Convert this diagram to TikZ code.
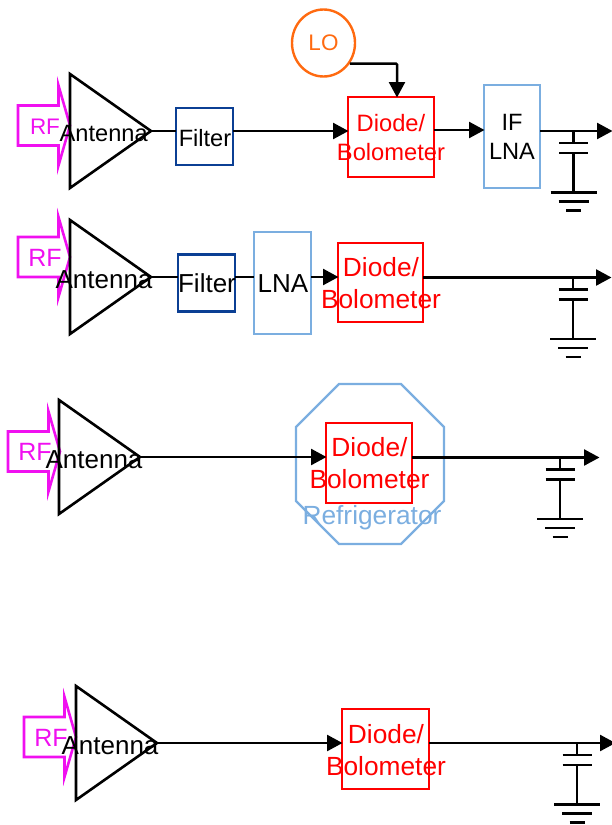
\documentclass[tikz,border=0pt]{standalone}
\usepackage{fontspec}
\setmainfont{Liberation Sans}
\usetikzlibrary{arrows.meta,shapes.geometric}
\definecolor{fblue}{HTML}{0B3F94}
\definecolor{lblue}{HTML}{7BAEE0}
\definecolor{rfmag}{HTML}{F010F0}
\definecolor{loor}{HTML}{FF6A10}
\tikzset{
  wire/.style={line width=2.5pt,black},
  arrowwire/.style={wire,-{Triangle[length=15.5pt,width=16pt]},shorten >=-0.5pt},
  thinwire/.style={line width=2.3pt,black},
  boxbase/.style={draw,fill=white,line width=2.4pt,inner sep=0pt,outer sep=0pt},
  filterbox/.style={boxbase,draw=fblue},
  lnabox/.style={boxbase,draw=lblue},
  diodebox/.style={draw=red,line width=2.4pt,inner sep=0pt,outer sep=0pt},
  antshape/.style={line width=2.6pt,black,line join=miter},
  rfshape/.style={draw=rfmag,line width=2.6pt,line join=miter},
  lbl/.style={inner sep=0pt,align=center},
}
% RF arrow: #1 name, #2 left x, #3 centre y, #4 font size, #5 text x, #6 text y
\newcommand{\rfarrow}[6]{%
  \draw[rfshape] (#2,#3-20) -- (#2+40.5,#3-20) -- (#2+40.5,#3-40) -- (#2+52,#3) -- (#2+40.5,#3+40) -- (#2+40.5,#3+20) -- (#2,#3+20) -- cycle;
  \node[lbl,text=rfmag,font=\fontsize{#4}{#4}\selectfont] (#1rf) at (#5,#6) {RF};
}
% antenna: #1 name, #2 x of left side, #3 y of tip, #4 font size of label, #5 label centre x
\newcommand{\antennashape}[5]{%
  \coordinate (#1tip) at (#2+81,#3);
  \draw[antshape] (#2,#3-57) -- (#2,#3+57) -- (#1tip) -- cycle;
  \node[lbl,font=\fontsize{#4}{#4}\selectfont] (#1ant) at (#5,#3+2.8) {Antenna};
}
% capacitor to ground: #1 name, #2 x, #3 y of line
\newcommand{\capgnd}[3]{%
  \coordinate (#1top) at (#2,#3);
  \coordinate (#1pa) at (#2,#3+12);
  \coordinate (#1pb) at (#2,#3+22);
  \coordinate (#1g) at (#2,#3+61.5);
  \draw[thinwire] (#1top) -- (#1pa);
  \draw[thinwire] (#1pb) -- (#1g);
  \draw[thinwire] ([xshift=-14.5pt]#1pa) -- ([xshift=14.5pt]#1pa);
  \draw[thinwire] ([xshift=-14.5pt]#1pb) -- ([xshift=14.5pt]#1pb);
  \draw[thinwire] ([xshift=-23pt]#1g) -- ([xshift=23pt]#1g);
  \draw[thinwire] ([xshift=-15pt,yshift=-9pt]#1g) -- ([xshift=15pt,yshift=-9pt]#1g);
  \draw[thinwire] ([xshift=-7.5pt,yshift=-18pt]#1g) -- ([xshift=7.5pt,yshift=-18pt]#1g);
}
% diode label: #1 name, #2 x, #3 y, #4 font size, #5 line spacing
\newcommand{\diodelabel}[5]{%
  \node[lbl,text=red,font=\fontsize{#4}{#5}\selectfont] (#1) at (#2,#3) {Diode/\\Bolometer};
}
\begin{document}
\begin{tikzpicture}[x=1pt,y=-1pt]
\useasboundingbox (0,0) rectangle (612,825);

% ---- row 1
\rfarrow{a}{18}{125.5}{22.5}{45}{127}
\antennashape{a}{70}{131}{23.6}{103.7}
\node[filterbox,minimum width=57pt,minimum height=57pt] (af) at (204.5,136.5) {};
\node[diodebox,minimum width=86pt,minimum height=80pt] (ad) at (391,137) {};
\node[lnabox,minimum width=56pt,minimum height=103pt] (al) at (512,136.5) {};
\node[draw=loor,line width=2.4pt,ellipse,minimum width=63pt,minimum height=67pt,inner sep=0pt,text=loor,font=\fontsize{22.5}{26}\selectfont] (lo) at (323.5,43) {\raisebox{-1.5pt}{LO}};
\draw[wire] (atip) -- (af.west |- atip);
\coordinate (aout) at (612,131);
\coordinate (adin) at (397,97);
\draw[arrowwire] (af.east |- atip) -- (ad.west |- atip);
\draw[arrowwire] (ad.east |- 0,130) -- (al.west |- 0,130);
\draw[arrowwire] (al.east |- aout) -- (aout);
\draw[arrowwire,rounded corners=1pt] (lo.-38) -| (adin);
\capgnd{ac}{573.5}{131}
\node[lbl,font=\fontsize{23.6}{23.6}\selectfont] (aft) at (205,137.7) {Filter};
\diodelabel{adt}{391}{138}{23.7}{29}
\node[lbl,font=\fontsize{23.6}{29}\selectfont] (alt) at (512,136.5) {IF\\LNA};

% ---- row 2
\rfarrow{b}{18}{257}{25}{45}{258}
\antennashape{b}{70}{277}{26}{104}
\node[filterbox,minimum width=57pt,minimum height=57pt] (bf) at (206.5,283) {};
\node[lnabox,minimum width=57pt,minimum height=102pt] (bl) at (282.5,283) {};
\node[diodebox,minimum width=85pt,minimum height=79pt] (bd) at (380.5,282.5) {};
\draw[wire] (btip) -- (bf.west |- btip);
\draw[wire] (bf.east |- btip) -- (bl.west |- btip);
\draw[arrowwire] (bl.east |- btip) -- (bd.west |- btip);
\coordinate (bout) at (611,277.5);
\draw[arrowwire] (bd.east |- bout) -- (bout);
\capgnd{bc}{573}{277.5}
\node[lbl,font=\fontsize{26}{26}\selectfont] (bft) at (207,283.5) {Filter};
\node[lbl,font=\fontsize{26}{26}\selectfont] (blt) at (283,284) {LNA};
\diodelabel{bdt}{381}{283.5}{26.3}{32}

% ---- row 3
\rfarrow{c}{8}{451.5}{25}{35}{452}
\antennashape{c}{59}{457}{26}{94}
\draw[draw=lblue,line width=2.4pt] (339,384) -- (401,384) -- (444,427) -- (444,501) -- (401,544) -- (339,544) -- (296,501) -- (296,427) -- cycle;
\node[diodebox,minimum width=86pt,minimum height=80pt] (cd) at (369,463) {};
\coordinate (cout) at (599,457.5);
\draw[arrowwire] (ctip) -- (cd.west |- ctip);
\draw[arrowwire] (cd.east |- cout) -- (cout);
\capgnd{cc}{560}{457.5}
\diodelabel{cdt}{369.5}{463.5}{26.3}{32}
\node[lbl,text=lblue,font=\fontsize{26.3}{26}\selectfont] (ref) at (372,518) {Refrigerator};

% ---- row 4
\rfarrow{d}{24}{737}{25}{51}{738}
\antennashape{d}{76}{743}{26}{110}
\node[diodebox,minimum width=87pt,minimum height=80pt] (dd) at (385.5,749) {};
\coordinate (dout) at (615,743);
\draw[arrowwire] (dtip) -- (dd.west |- dtip);
\draw[arrowwire] (dd.east |- dout) -- (dout);
\capgnd{dc}{577}{743}
\diodelabel{ddt}{386}{750}{26.3}{32.5}
\end{tikzpicture}
\end{document}
